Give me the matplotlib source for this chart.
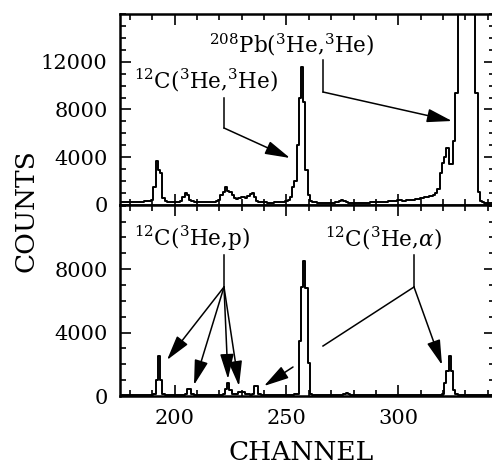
import matplotlib
matplotlib.use("Agg")
import matplotlib.pyplot as plt
from matplotlib.patches import FancyArrowPatch
from matplotlib.lines import Line2D
from matplotlib.ticker import MultipleLocator

plt.rcParams['font.family'] = ['DejaVu Serif']
plt.rcParams['mathtext.fontset'] = 'dejavuserif'

# ---------------- data ----------------
channel_start = 176
# Upper panel: 3He elastic spectrum (counts per channel, ch 176..342); >16000 = off scale
counts_top = [
    250, 250, 240, 250, 260, 250, 250, 260, 270, 280,        # 176-185
    290, 300, 320, 330, 400, 1500, 3700, 2900, 2700, 600,    # 186-195
    300, 250, 230, 220, 220, 230, 250, 350, 700, 1000,       # 196-205
    800, 450, 300, 250, 230, 220, 220, 210, 210, 220,        # 206-215
    230, 240, 260, 300, 450, 800, 1100, 1500, 1200, 1050,    # 216-225
    800, 550, 500, 550, 650, 650, 600, 750, 950, 1000,       # 226-235
    650, 350, 250, 230, 220, 210, 200, 200, 200, 210,        # 236-245
    220, 240, 260, 290, 320, 400, 700, 1500, 2000, 5000,     # 246-255
    9000, 11600, 8600, 2900, 800, 300, 220, 210, 200, 200,   # 256-265
    200, 200, 190, 190, 200, 200, 210, 230, 300, 450,        # 266-275
    300, 220, 200, 190, 190, 180, 180, 190, 190, 200,        # 276-285
    200, 200, 210, 210, 220, 230, 240, 250, 260, 280,        # 286-295
    300, 320, 340, 360, 400, 380, 350, 360, 380, 400,        # 296-305
    420, 450, 500, 500, 550, 600, 650, 700, 750, 750,        # 306-315
    840, 1000, 1300, 2700, 3500, 4000, 4800, 3400, 3400, 5400,  # 316-325
    9400, 40000, 40000, 40000, 40000, 40000, 40000, 40000, 40000, 9400,  # 326-335
    1100, 300, 220, 200, 200, 200, 200,                      # 336-342
]
# Lower panel: coincidence-gated spectrum (counts per channel, ch 176..342)
counts_bot = [
    60, 70, 60, 80, 70, 60, 70, 80, 60, 70,                  # 176-185
    80, 70, 60, 70, 80, 100, 1000, 2500, 1000, 100,          # 186-195
    70, 60, 70, 80, 60, 70, 80, 70, 60, 150,                 # 196-205
    450, 450, 100, 60, 70, 60, 80, 60, 70, 60,               # 206-215
    70, 80, 70, 60, 80, 90, 120, 450, 800, 400,              # 216-225
    120, 100, 150, 250, 270, 250, 150, 100, 90, 100,         # 226-235
    650, 650, 100, 70, 60, 70, 60, 70, 80, 60,               # 236-245
    70, 60, 80, 70, 60, 70, 80, 90, 100, 120,                # 246-255
    3500, 6900, 8500, 6800, 2100, 150, 90, 80, 70, 60,       # 256-265
    70, 60, 70, 80, 60, 70, 60, 80, 70, 90,                  # 266-275
    150, 200, 120, 80, 70, 60, 70, 60, 70, 80,               # 276-285
    60, 70, 60, 70, 80, 60, 70, 60, 80, 70,                  # 286-295
    60, 70, 80, 60, 70, 80, 70, 60, 70, 80,                  # 296-305
    60, 70, 60, 80, 70, 60, 70, 80, 60, 70,                  # 306-315
    80, 70, 60, 80, 120, 800, 1600, 2500, 1600, 400,         # 316-325
    100, 70, 60, 70, 80, 60, 70, 60, 80, 70,                 # 326-335
    60, 70, 80, 60, 70, 60, 70,                              # 336-342
]
channels = list(range(channel_start, channel_start + len(counts_top)))

top_yticks = [0, 4000, 8000, 12000]
bot_yticks = [0, 4000, 8000]
xticks = [200, 250, 300]

# ---------------- figure ----------------
W, H = 492, 474
fig = plt.figure(figsize=(W / 100, H / 100), dpi=100)

def fx(x):
    return x / W

def fy(y):
    return 1 - y / H

left, right = 120, 494.5
ax_top = fig.add_axes([fx(left), fy(205), fx(right) - fx(left), fy(14) - fy(205)])
ax_bot = fig.add_axes([fx(left), fy(396), fx(right) - fx(left), fy(205) - fy(396)])

for ax, cts, yt, ylim in [(ax_top, counts_top, top_yticks, 16000),
                          (ax_bot, counts_bot, bot_yticks, 12050)]:
    ax.step(channels, cts, where='mid', color='black', lw=1.4)
    ax.set_xlim(175.6, 343.0)
    ax.set_ylim(0, ylim)
    ax.set_yticks(yt)
    ax.yaxis.set_minor_locator(MultipleLocator(1000))
    ax.set_xticks(xticks)
    ax.xaxis.set_minor_locator(MultipleLocator(10))
    ax.tick_params(which='both', direction='in', top=True, right=True,
                   labelsize=15, width=1.2, pad=9)
    ax.tick_params(which='major', length=8)
    ax.tick_params(which='minor', length=4)
    for s in ax.spines.values():
        s.set_linewidth(1.8)

ax_top.tick_params(labelbottom=False)

fig.text(fx(26), fy(211), 'COUNTS', rotation=90, ha='center', va='center', fontsize=19)
fig.text(fx(301), fy(453), 'CHANNEL', ha='center', va='center', fontsize=19)

# ---------------- annotations ----------------
lab = 15.5
fig.text(fx(291.5), fy(52), r'$^{208}$Pb($^{3}$He,$^{3}$He)', ha='center', va='baseline', fontsize=lab)
fig.text(fx(206.5), fy(89), r'$^{12}$C($^{3}$He,$^{3}$He)', ha='center', va='baseline', fontsize=lab)
fig.text(fx(192), fy(246), r'$^{12}$C($^{3}$He,p)', ha='center', va='baseline', fontsize=lab)
fig.text(fx(383), fy(247), r'$^{12}$C($^{3}$He,$\alpha$)', ha='center', va='baseline', fontsize=lab)

def seg(p, q):
    fig.add_artist(Line2D([fx(p[0]), fx(q[0])], [fy(p[1]), fy(q[1])],
                          transform=fig.transFigure, color='black', lw=1.1))

def arrow(p, q):
    fig.add_artist(FancyArrowPatch((fx(p[0]), fy(p[1])), (fx(q[0]), fy(q[1])),
                                   transform=fig.transFigure,
                                   arrowstyle='-|>,head_length=1.1,head_width=0.3',
                                   mutation_scale=14, color='black', lw=1.1,
                                   shrinkA=0, shrinkB=0))

seg((224, 98), (224, 128)); arrow((224, 128), (290, 158))
seg((323, 60), (323, 92)); arrow((323, 92), (452, 121))

seg((224, 255), (224, 287))
for tip in [(167, 360), (194, 385), (228, 379), (239, 386)]:
    arrow((224, 287), tip)
arrow((293, 367), (264, 386))

seg((414, 255), (414, 287))
seg((414, 287), (323, 346))
arrow((414, 287), (442, 365))

fig.savefig('out.png', dpi=100)
